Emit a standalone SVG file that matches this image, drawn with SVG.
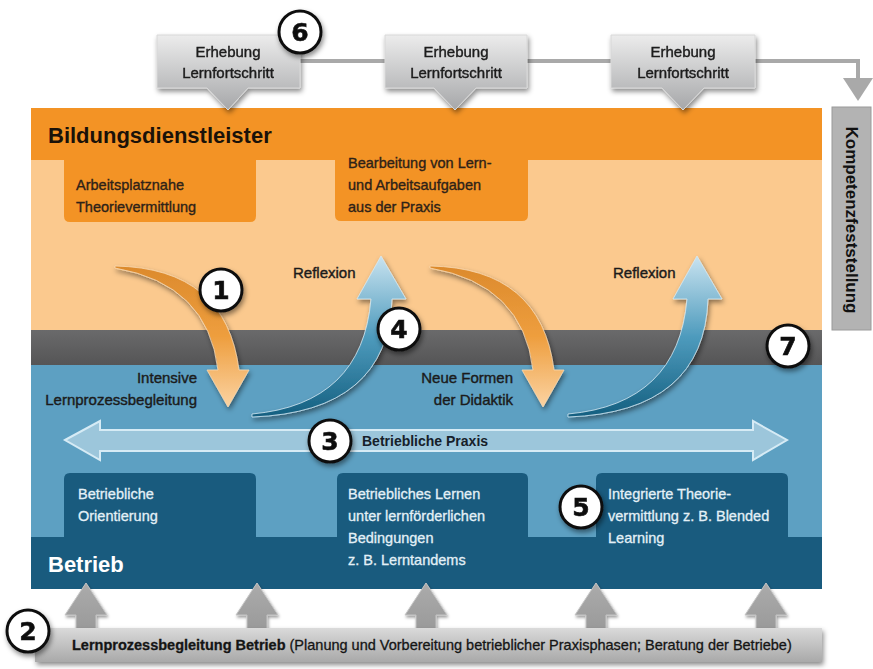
<svg xmlns="http://www.w3.org/2000/svg" width="873" height="669" viewBox="0 0 873 669">
<defs>
<style>
.t{font-family:"Liberation Sans Narrow","Liberation Sans",Arial,sans-serif;}
.dk{fill:#2e2218;font-size:14.5px;stroke:#2e2218;stroke-width:0.35px;}
.lt{fill:#e3f0f7;font-size:14.5px;stroke:#e3f0f7;stroke-width:0.3px;}
.lbl{fill:#1b1b1b;font-size:15px;stroke:#1b1b1b;stroke-width:0.4px;}
.num{font-family:"DejaVu Sans","Liberation Sans",sans-serif;font-weight:bold;font-size:25px;fill:#111;text-anchor:middle;stroke:#111;stroke-width:0.6px;}
.circ{fill:#fff;stroke:#111;stroke-width:3;}
.call{fill:url(#gGray);stroke:#d8d8d8;stroke-width:1;}
.up{fill:url(#gUp);stroke:#c4c4c4;stroke-width:1;}
</style>
<linearGradient id="gGray" x1="0" y1="0" x2="0" y2="1">
<stop offset="0" stop-color="#ececec"/><stop offset="1" stop-color="#a6a7a9"/>
</linearGradient>
<linearGradient id="gBar" x1="0" y1="0" x2="0" y2="1">
<stop offset="0" stop-color="#dadada"/><stop offset="1" stop-color="#a9a9a9"/>
</linearGradient>
<linearGradient id="gUp" x1="0" y1="0" x2="0" y2="1">
<stop offset="0" stop-color="#ababab"/><stop offset="1" stop-color="#9a9a9a"/>
</linearGradient>
<linearGradient id="gOr" x1="0" y1="0" x2="0" y2="1">
<stop offset="0" stop-color="#dc8a2c"/><stop offset="0.5" stop-color="#ee9e3e"/><stop offset="1" stop-color="#fbd3a2"/>
</linearGradient>
<linearGradient id="gBl" x1="0" y1="1" x2="0" y2="0">
<stop offset="0" stop-color="#145f80"/><stop offset="0.5" stop-color="#4e9bbd"/><stop offset="1" stop-color="#c9e3f0"/>
</linearGradient>
<linearGradient id="gBand" x1="0" y1="0" x2="0" y2="1">
<stop offset="0" stop-color="#6a6a6b"/><stop offset="1" stop-color="#555556"/>
</linearGradient>
<filter id="sh" x="-30%" y="-30%" width="160%" height="170%">
<feDropShadow dx="1.5" dy="3" stdDeviation="2.5" flood-color="#000" flood-opacity="0.45"/>
</filter>
<filter id="shs" x="-30%" y="-30%" width="160%" height="170%">
<feDropShadow dx="1" dy="2" stdDeviation="1.8" flood-color="#000" flood-opacity="0.4"/>
</filter>
</defs>

<rect width="873" height="669" fill="#ffffff"/>

<!-- main panel -->
<g id="panel">
<rect x="31" y="108" width="791" height="52" fill="#f39325"/>
<rect x="31" y="160" width="791" height="170" fill="#fbc98e"/>
<rect x="31" y="330" width="791" height="35" fill="url(#gBand)"/>
<rect x="31" y="365" width="791" height="172" fill="#5da0c2"/>
<rect x="31" y="537" width="791" height="52" fill="#195b7e"/>
<text class="t" x="48" y="143" font-size="22" font-weight="bold" fill="#1a1209">Bildungsdienstleister</text>
<text class="t" x="48" y="572" font-size="22" font-weight="bold" fill="#ffffff">Betrieb</text>
</g>

<g id="box-arbeitsplatznahe">
<path d="M64,158 H256 V216 Q256,222 250,222 H70 Q64,222 64,216 Z" fill="#f39325"/>
<text class="t dk" x="76" y="190">Arbeitsplatznahe</text>
<text class="t dk" x="76" y="212">Theorievermittlung</text>
</g>
<g id="box-bearbeitung">
<path d="M335,158 H528 V215 Q528,221 522,221 H341 Q335,221 335,215 Z" fill="#f39325"/>
<text class="t dk" x="348" y="168">Bearbeitung von Lern-</text>
<text class="t dk" x="348" y="190">und Arbeitsaufgaben</text>
<text class="t dk" x="348" y="212">aus der Praxis</text>
</g>

<g id="box-orientierung">
<path d="M64,539 V479 Q64,473 70,473 H250 Q256,473 256,479 V539 Z" fill="#195b7e"/>
<text class="t lt" x="78" y="499">Betriebliche</text>
<text class="t lt" x="78" y="521">Orientierung</text>
</g>
<g id="box-lernen">
<path d="M337,539 V479 Q337,473 343,473 H522 Q528,473 528,479 V539 Z" fill="#195b7e"/>
<text class="t lt" x="348" y="499">Betriebliches Lernen</text>
<text class="t lt" x="348" y="521">unter lernförderlichen</text>
<text class="t lt" x="348" y="543">Bedingungen</text>
<text class="t lt" x="348" y="565">z. B. Lerntandems</text>
</g>
<g id="box-integrierte">
<path d="M596,539 V479 Q596,473 602,473 H782 Q788,473 788,479 V539 Z" fill="#195b7e"/>
<text class="t lt" x="608" y="499">Integrierte Theorie-</text>
<text class="t lt" x="608" y="521">vermittlung z. B. Blended</text>
<text class="t lt" x="608" y="543">Learning</text>
</g>

<g id="kompetenz">
<rect x="832" y="107" width="39" height="223" fill="#b3b3b3" stroke="#9a9a9a" stroke-width="1"/>
<text class="t" transform="translate(846,220) rotate(90)" text-anchor="middle" font-size="17" font-weight="bold" fill="#111">Kompetenzfeststellung</text>
</g>

<!-- connectors -->
<g id="connectors">
<polyline points="300,61 385,61" fill="none" stroke="#a9a9a9" stroke-width="4"/>
<polyline points="527,61 611,61" fill="none" stroke="#a9a9a9" stroke-width="4"/>
<polyline points="755,61 858,61 858,80" fill="none" stroke="#a9a9a9" stroke-width="4"/>
<polygon points="843,78 873,78 858,101" fill="#a9a9a9"/>

<g filter="url(#sh)">
<path d="M115,266 Q226,268 239,370 L249,370 L228,407 L207,370 L218,370 Q208,284 115,268 Z" fill="url(#gOr)" stroke="#f9d8b0" stroke-width="0.8"/>
<path d="M430,266 Q541,268 554,370 L564,370 L543,407 L522,370 L533,370 Q523,284 430,268 Z" fill="url(#gOr)" stroke="#f9d8b0" stroke-width="0.8"/>
<path d="M252,414 Q362,404 371,299 L357,299 L381,256 L406,299 L392,299 Q388,412 252,417 Z" fill="url(#gBl)" stroke="#d5eaf4" stroke-width="0.8"/>
<path d="M568,414 Q678,404 687,299 L673,299 L697,256 L722,299 L708,299 Q704,412 568,417 Z" fill="url(#gBl)" stroke="#d5eaf4" stroke-width="0.8"/>
</g>

<polygon points="65,440 100,421 100,430 753,430 753,421 787,440 753,460 753,451 100,451 100,460" fill="#9cc6db" stroke="#d6ebf5" stroke-width="2"/>

<g filter="url(#shs)">
<path class="up" d="M86,583 L107,615 L96,615 V630 H76 V615 H65 Z"/>
<path class="up" d="M257,583 L278,615 L267,615 V630 H247 V615 H236 Z"/>
<path class="up" d="M426,583 L447,615 L436,615 V630 H416 V615 H405 Z"/>
<path class="up" d="M596,583 L617,615 L606,615 V630 H586 V615 H575 Z"/>
<path class="up" d="M766,583 L787,615 L776,615 V630 H756 V615 H745 Z"/>
</g>
</g>

<g id="callout-1" filter="url(#sh)">
<path class="call" d="M157,35 H300 V88 H248 L228,110 L207,88 H157 Z"/>
<text class="t lbl" x="228" y="57" text-anchor="middle" font-size="16">Erhebung</text>
<text class="t lbl" x="228" y="78" text-anchor="middle" font-size="16">Lernfortschritt</text>
</g>
<g id="callout-2" filter="url(#sh)">
<path class="call" d="M385,35 H527 V88 H476 L455,110 L434,88 H385 Z"/>
<text class="t lbl" x="456" y="57" text-anchor="middle" font-size="16">Erhebung</text>
<text class="t lbl" x="456" y="78" text-anchor="middle" font-size="16">Lernfortschritt</text>
</g>
<g id="callout-3" filter="url(#sh)">
<path class="call" d="M611,35 H755 V88 H704 L683,110 L662,88 H611 Z"/>
<text class="t lbl" x="683" y="57" text-anchor="middle" font-size="16">Erhebung</text>
<text class="t lbl" x="683" y="78" text-anchor="middle" font-size="16">Lernfortschritt</text>
</g>

<g id="bottom-bar">
<rect x="35" y="628" width="787" height="34" fill="url(#gBar)" filter="url(#sh)"/>
<text class="t" x="72" y="650" font-size="14.5" fill="#151515" stroke="#151515" stroke-width="0.3"><tspan font-weight="bold">Lernprozessbegleitung Betrieb</tspan> (Planung und Vorbereitung betrieblicher Praxisphasen; Beratung der Betriebe)</text>
</g>

<g id="labels">
<text class="t lbl" x="293" y="278">Reflexion</text>
<text class="t lbl" x="613" y="278">Reflexion</text>
<text class="t lbl" x="197" y="383" text-anchor="end">Intensive</text>
<text class="t lbl" x="197" y="405" text-anchor="end">Lernprozessbegleitung</text>
<text class="t lbl" x="513" y="383" text-anchor="end">Neue Formen</text>
<text class="t lbl" x="513" y="405" text-anchor="end">der Didaktik</text>
<text class="t" x="362" y="446" font-size="14" font-weight="bold" fill="#16202a">Betriebliche Praxis</text>
</g>

<g id="circle-1" filter="url(#sh)"><circle class="circ" cx="221" cy="290" r="21"/><text class="num" x="221" y="299">1</text></g>
<g id="circle-2" filter="url(#sh)"><circle class="circ" cx="28" cy="631" r="21"/><text class="num" x="28" y="640">2</text></g>
<g id="circle-3" filter="url(#sh)"><circle class="circ" cx="330" cy="441" r="21"/><text class="num" x="330" y="450">3</text></g>
<g id="circle-4" filter="url(#sh)"><circle class="circ" cx="399" cy="329" r="21"/><text class="num" x="399" y="338">4</text></g>
<g id="circle-5" filter="url(#sh)"><circle class="circ" cx="581" cy="507" r="21"/><text class="num" x="581" y="516">5</text></g>
<g id="circle-6" filter="url(#sh)"><circle class="circ" cx="300" cy="32" r="21"/><text class="num" x="300" y="41">6</text></g>
<g id="circle-7" filter="url(#sh)"><circle class="circ" cx="788" cy="346" r="21"/><text class="num" x="788" y="355">7</text></g>
</svg>
